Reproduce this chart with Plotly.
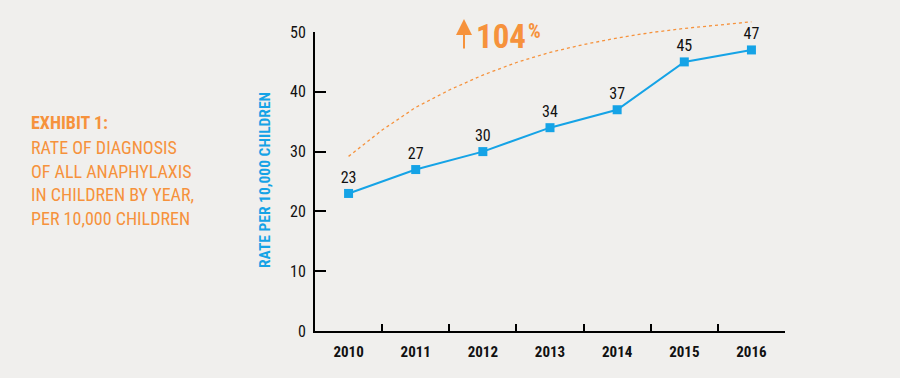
import plotly.graph_objects as go

years = ["2010", "2011", "2012", "2013", "2014", "2015", "2016"]
rates = [23, 27, 30, 34, 37, 45, 47]
trend_x = [0.0, 0.5, 1.0, 1.5, 2.0, 2.5, 3.0, 3.5, 4.0, 4.5, 5.0, 5.5, 6.0]
trend_y = [29.2, 33.6, 37.4, 40.3, 42.8, 44.9, 46.6, 47.9, 49.0, 49.9, 50.6, 51.2, 51.7]
y_ticks = [0, 10, 20, 30, 40, 50]
title_lines = ["EXHIBIT 1:", "RATE OF DIAGNOSIS", "OF ALL ANAPHYLAXIS",
               "IN CHILDREN BY YEAR,", "PER 10,000 CHILDREN"]
change_label = "104"

FONT = "Liberation Sans Narrow, Arial Narrow, Roboto Condensed, DejaVu Sans Condensed, sans-serif"
BLUE = "#15a3e6"
ORANGE = "#f6923c"
BG = "#f0efed"

W, H = 900, 378
ML, MR, MT, MB = 315, 115, 15, 47
plot_h = H - MT - MB
main_h = 331 - 32
dom_top = main_h / plot_h

fig = go.Figure()
fig.add_trace(go.Scatter(
    x=trend_x, y=trend_y, xaxis="x2", yaxis="y2", mode="lines",
    line=dict(color=ORANGE, width=1.3, dash="dot"), hoverinfo="skip",
))
fig.add_trace(go.Scatter(
    x=years, y=rates, mode="lines+markers+text",
    line=dict(color=BLUE, width=2),
    marker=dict(symbol="square", size=9, color=BLUE),
    text=[str(v) for v in rates], textposition="top center",
    textfont=dict(family=FONT, size=16, color="#111111"),
    cliponaxis=False,
))

fig.update_layout(
    width=W, height=H, margin=dict(l=ML, r=MR, t=MT, b=MB, autoexpand=False),
    paper_bgcolor=BG, plot_bgcolor="rgba(0,0,0,0)", showlegend=False,
    xaxis=dict(type="category", domain=[0, 1], range=[-0.5, 6.5],
               showline=True, linecolor="black", linewidth=2,
               ticks="inside", tickson="boundaries", ticklen=7, tickwidth=2,
               tickcolor="black", showgrid=False, zeroline=False,
               tickfont=dict(family=FONT, size=15, color="#111111", weight="bold"),
               ticklabelstandoff=6, automargin=False, anchor="y"),
    yaxis=dict(domain=[0, dom_top], range=[0, 50], tickvals=y_ticks,
               showline=True, linecolor="black", linewidth=2,
               ticks="inside", ticklen=11, tickwidth=2, tickcolor="black",
               showgrid=False, zeroline=False, ticklabelstandoff=4,
               tickfont=dict(family=FONT, size=16, color="#111111"),
               automargin=False, anchor="x"),
    xaxis2=dict(domain=[0, 1], range=[-0.5, 6.5], visible=False,
                automargin=False, anchor="y2"),
    yaxis2=dict(domain=[0, 1], range=[0, 50 / dom_top], visible=False,
                automargin=False, anchor="x2"),
)

def px_to_paper_x(px):
    return (px - ML) / (W - ML - MR)

def py_to_paper_y(py):
    return (H - MB - py) / plot_h

# left title block
line_y = [122, 147, 171, 195, 218]
for i, (t, yy) in enumerate(zip(title_lines, line_y)):
    fig.add_annotation(
        text=f"<b>{t}</b>" if i == 0 else t,
        xref="paper", yref="paper",
        x=px_to_paper_x(29), y=py_to_paper_y(yy),
        xanchor="left", yanchor="middle", showarrow=False,
        font=dict(family=FONT, size=18, color=ORANGE),
    )

# y-axis title
fig.add_annotation(
    text="<b>RATE PER 10,000 CHILDREN</b>", textangle=-90,
    xref="paper", yref="paper",
    x=px_to_paper_x(265), y=py_to_paper_y(180),
    xanchor="center", yanchor="middle", showarrow=False,
    font=dict(family=FONT, size=15.5, color=BLUE),
)

# up arrow
fig.add_annotation(
    text="", xref="paper", yref="paper",
    x=px_to_paper_x(464), y=py_to_paper_y(19),
    ax=0, ay=31, showarrow=True, arrowhead=2, arrowsize=1.6,
    arrowwidth=2, arrowcolor=ORANGE,
)
fig.add_annotation(
    text=f"<b>{change_label}</b>", xref="paper", yref="paper",
    x=px_to_paper_x(474), y=py_to_paper_y(36),
    xanchor="left", yanchor="middle", showarrow=False,
    font=dict(family=FONT, size=33, color=ORANGE),
)
fig.add_annotation(
    text="<b>%</b>", xref="paper", yref="paper",
    x=px_to_paper_x(526), y=py_to_paper_y(31),
    xanchor="left", yanchor="middle", showarrow=False,
    font=dict(family=FONT, size=20, color=ORANGE),
)

fig.write_html("out.html", config={"displayModeBar": False},
               post_script="document.body.style.margin='0';")
